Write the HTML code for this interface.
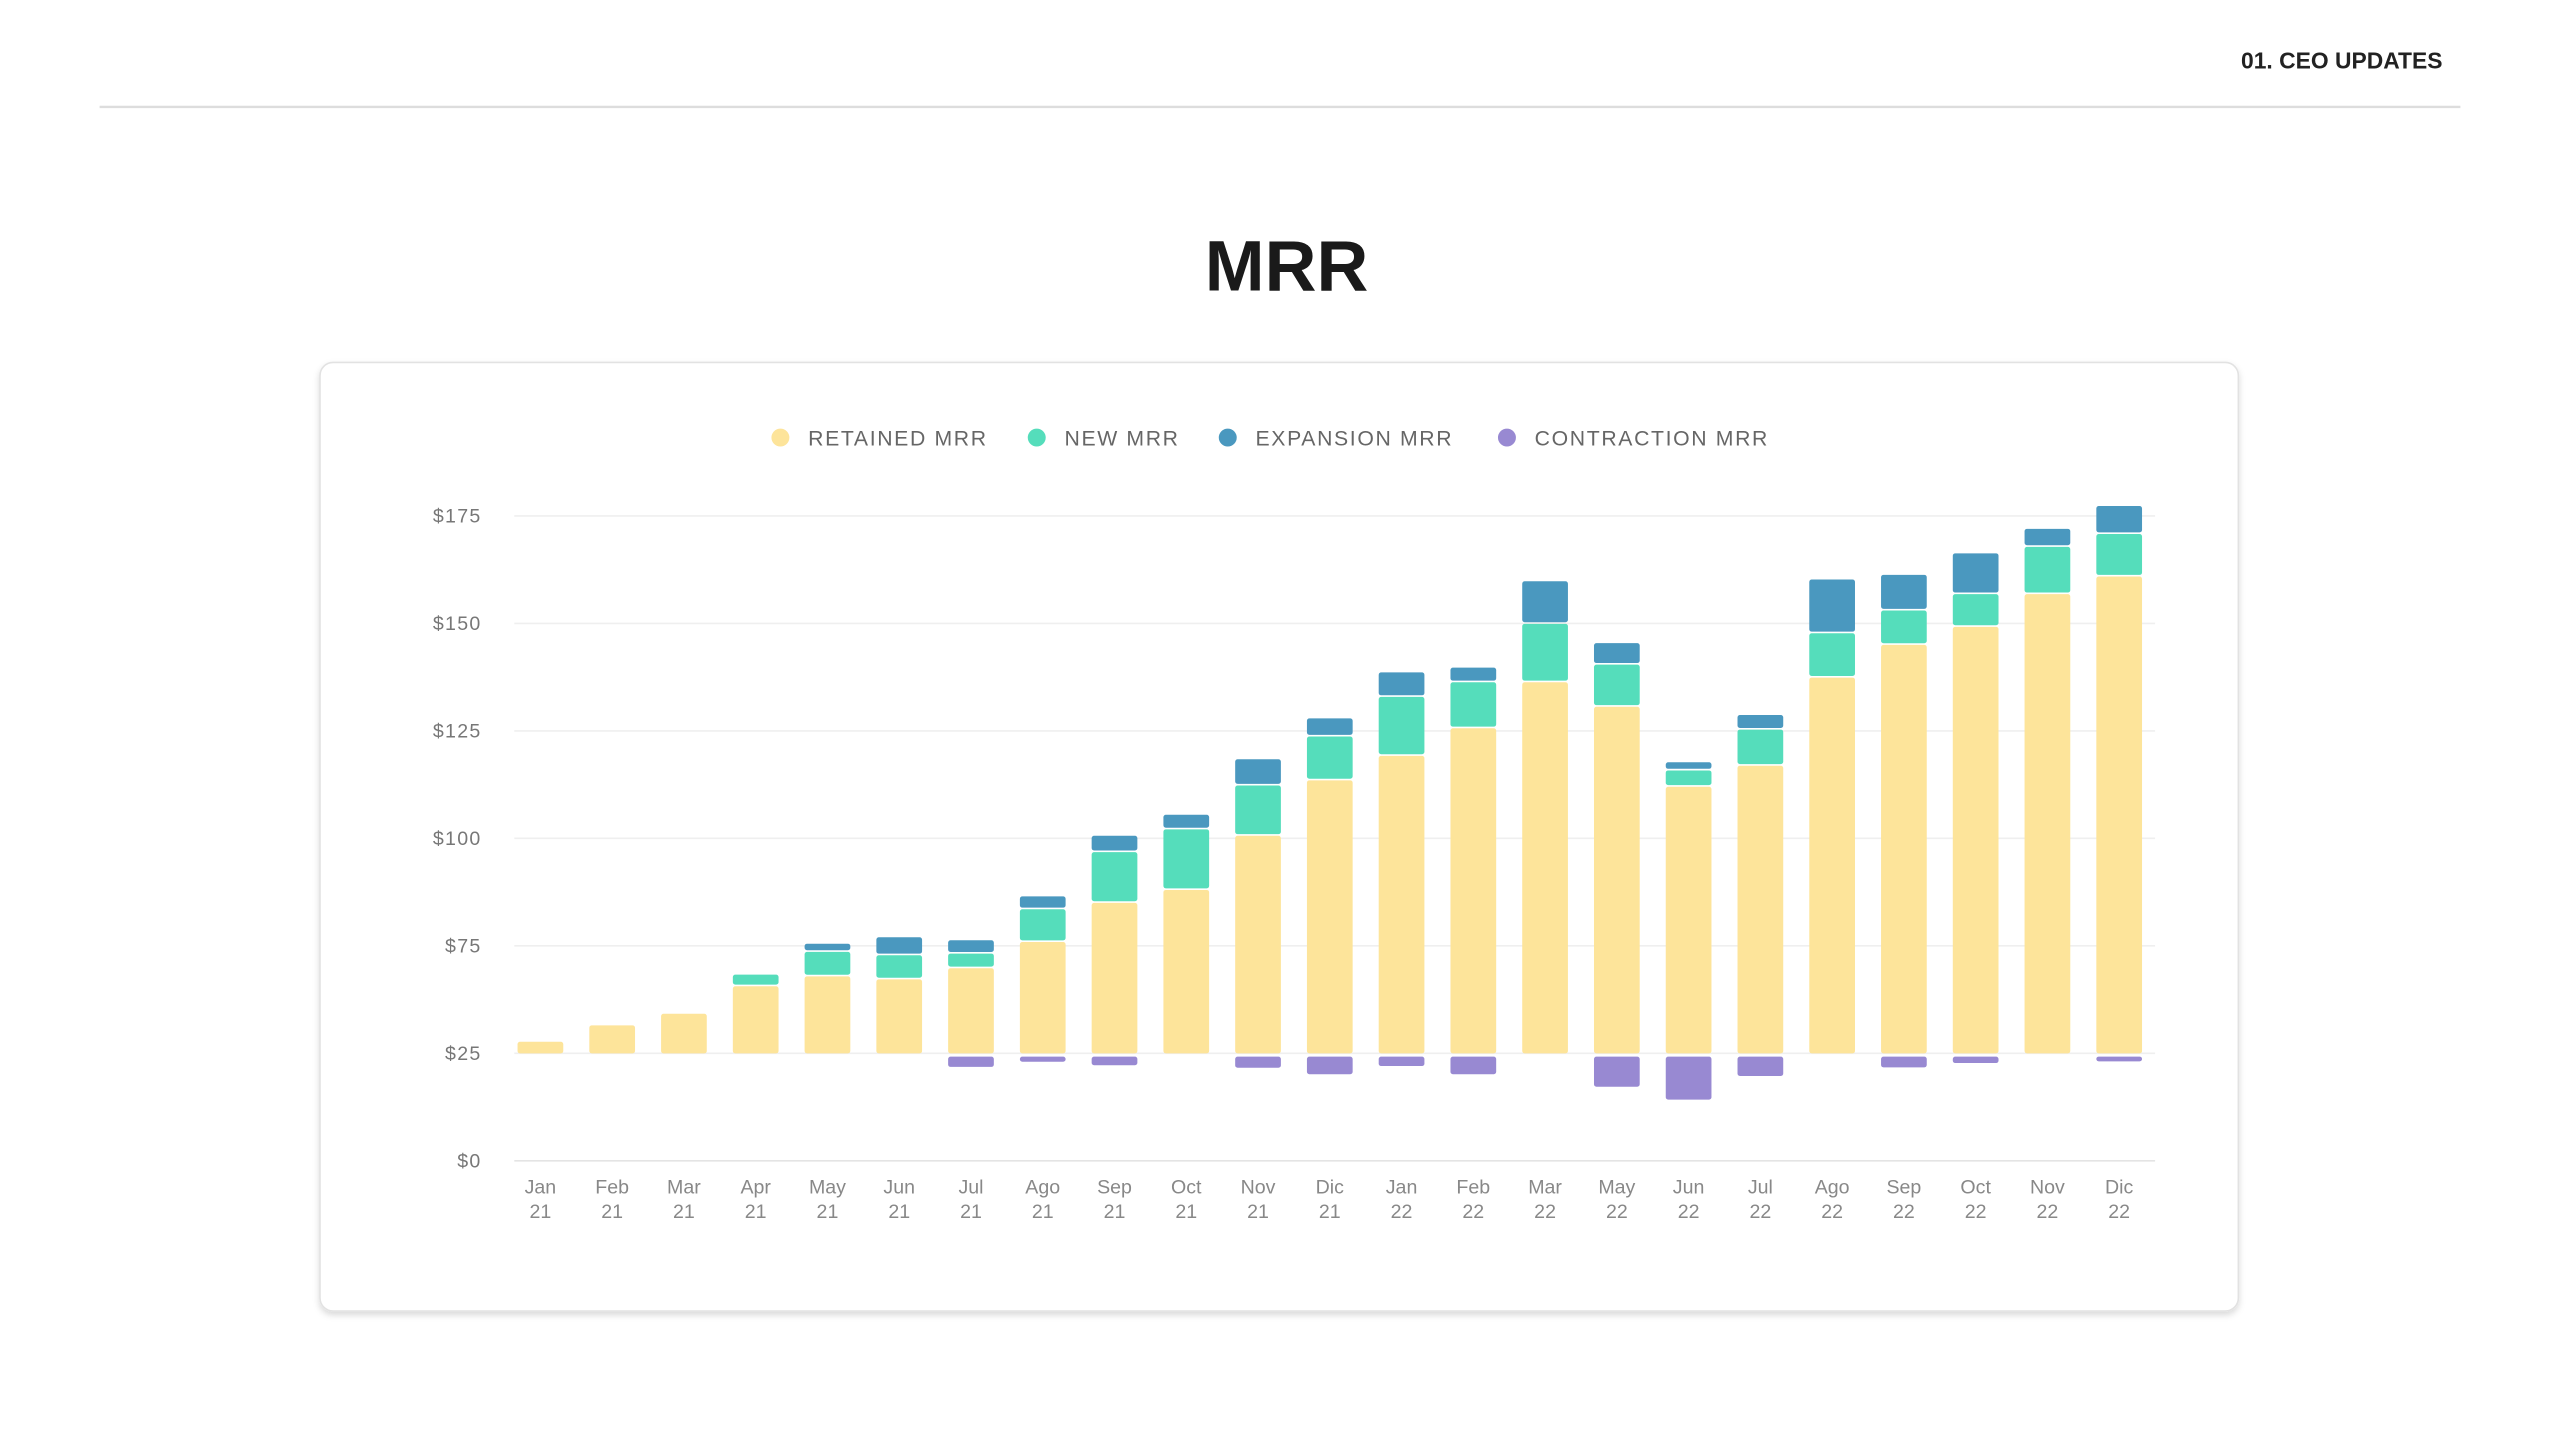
<!DOCTYPE html>
<html><head><meta charset="utf-8"><style>
html,body{margin:0;padding:0;background:#fff;width:2560px;height:1440px;overflow:hidden}
svg{display:block}
</style></head><body>
<svg id="chart" width="2560" height="1440" viewBox="0 0 1568 882" xmlns="http://www.w3.org/2000/svg" font-family="Liberation Sans, sans-serif">
<defs><filter id="sh" x="-5%" y="-5%" width="110%" height="112%"><feDropShadow dx="0" dy="2" stdDeviation="2" flood-color="#000" flood-opacity="0.15"/></filter></defs>
<text x="1496" y="42" text-anchor="end" font-size="14" font-weight="bold" fill="#222">01. CEO UPDATES</text>
<line x1="61" y1="65.5" x2="1507" y2="65.5" stroke="#ddd" stroke-width="1.5"/>
<text x="788" y="178" text-anchor="middle" font-size="44" font-weight="bold" fill="#1a1a1a">MRR</text>
<rect x="196" y="222" width="1175" height="581" rx="8" fill="#fff" stroke="#e2e2e2" filter="url(#sh)"/>
<g id="legend"></g>
<g id="grid"></g>
<g id="bars"></g>
<g id="xlab"></g>
</svg>
<script>
const categories=["Jan 21","Feb 21","Mar 21","Apr 21","May 21","Jun 21","Jul 21","Ago 21","Sep 21","Oct 21","Nov 21","Dic 21","Jan 22","Feb 22","Mar 22","May 22","Jun 22","Jul 22","Ago 22","Sep 22","Oct 22","Nov 22","Dic 22"];
const retained=[2.7,6.5,9.2,15.6,17.9,17.2,19.8,25.9,35.0,38.0,50.6,63.5,69.2,75.6,86.3,80.6,62.0,66.9,87.4,95.0,99.2,106.8,110.9];
const newMrr=[0,0,0,2.7,5.7,5.6,3.4,7.6,11.8,14.1,11.7,10.2,13.7,10.7,13.6,9.8,3.8,8.4,10.3,8.0,7.6,11.0,9.9];
const expansion=[0,0,0,0,1.9,4.2,3.1,3.0,3.8,3.4,6.1,4.2,5.7,3.4,9.9,5.0,1.9,3.4,12.5,8.3,9.5,4.2,6.5];
const contraction=[0,0,0,0,0,0,2.4,1.2,2.0,0,2.6,4.1,2.2,4.1,0,7.0,10.0,4.5,0,2.5,1.5,0,1.1];
const tickValues=[0,25,50,75,100,125,150];
const tickLabels=["$0","$25","$75","$100","$125","$150","$175"];
const baseline=25;
const NS="http://www.w3.org/2000/svg";
function y(v){return 711-v*(711-316)/150;}
function x(i){return 331+i*(1298-331)/(categories.length-1);}
function mk(tag,attrs,parent){const e=document.createElementNS(NS,tag);for(const k in attrs)e.setAttribute(k,attrs[k]);parent.appendChild(e);return e;}
const grid=document.getElementById('grid'),bars=document.getElementById('bars'),xl=document.getElementById('xlab'),lg=document.getElementById('legend');
tickValues.forEach((t,i)=>{
 const l=mk('line',{x1:315,x2:1320,y1:y(t),y2:y(t),stroke:i==0?'#e4e4e4':'#efefef','stroke-width':1},grid);
 
 
 const tx=mk('text',{x:295,y:y(t)+4,'text-anchor':'end','font-size':12,fill:'#777','letter-spacing':'0.8'},grid);
 tx.textContent=tickLabels[i];
 
 
});
const C={r:'#FDE49A',n:'#55DDBB',e:'#4A98BF',c:'#9889D2'};
const bw=28;
categories.forEach((c,i)=>{
 let b=baseline;
 const segs=[['r',retained[i],'bar-retained'],['n',newMrr[i],'bar-new'],['e',expansion[i],'bar-expansion']];
 segs.forEach(([k,v,name])=>{
  if(v<=0)return;
  const top=b+v;
  const r=mk('rect',{x:x(i)-bw/2,y:y(top),width:bw,height:y(b)-y(top)-(k=='r'?0:1),fill:C[k],rx:1.5},bars);
  
  
  b=top;
 });
 if(contraction[i]>0){
  const r=mk('rect',{x:x(i)-bw/2,y:y(baseline)+2,width:bw,height:y(baseline-contraction[i])-y(baseline),fill:C.c,rx:1.5},bars);
  
  
 }
 const p=c.split(' ');
 [p[0],p[1]].forEach((s,j)=>{
  const t=mk('text',{x:x(i),y:731+j*15,'text-anchor':'middle','font-size':12,fill:'#888'},xl);
  t.textContent=s;
  
  
 });
});
const legendItems=[['RETAINED MRR',C.r,478,495],['NEW MRR',C.n,635,652],['EXPANSION MRR',C.e,752,769],['CONTRACTION MRR',C.c,923,940]];
legendItems.forEach(([t,col,cx,tx])=>{
 const d=mk('circle',{cx:cx,cy:268,r:5.5,fill:col},lg);
 
 
 const s=mk('text',{x:tx,y:273,'font-size':13,fill:'#666','letter-spacing':'1'},lg);
 s.textContent=t;
 
 
});
</script>
</body></html>
